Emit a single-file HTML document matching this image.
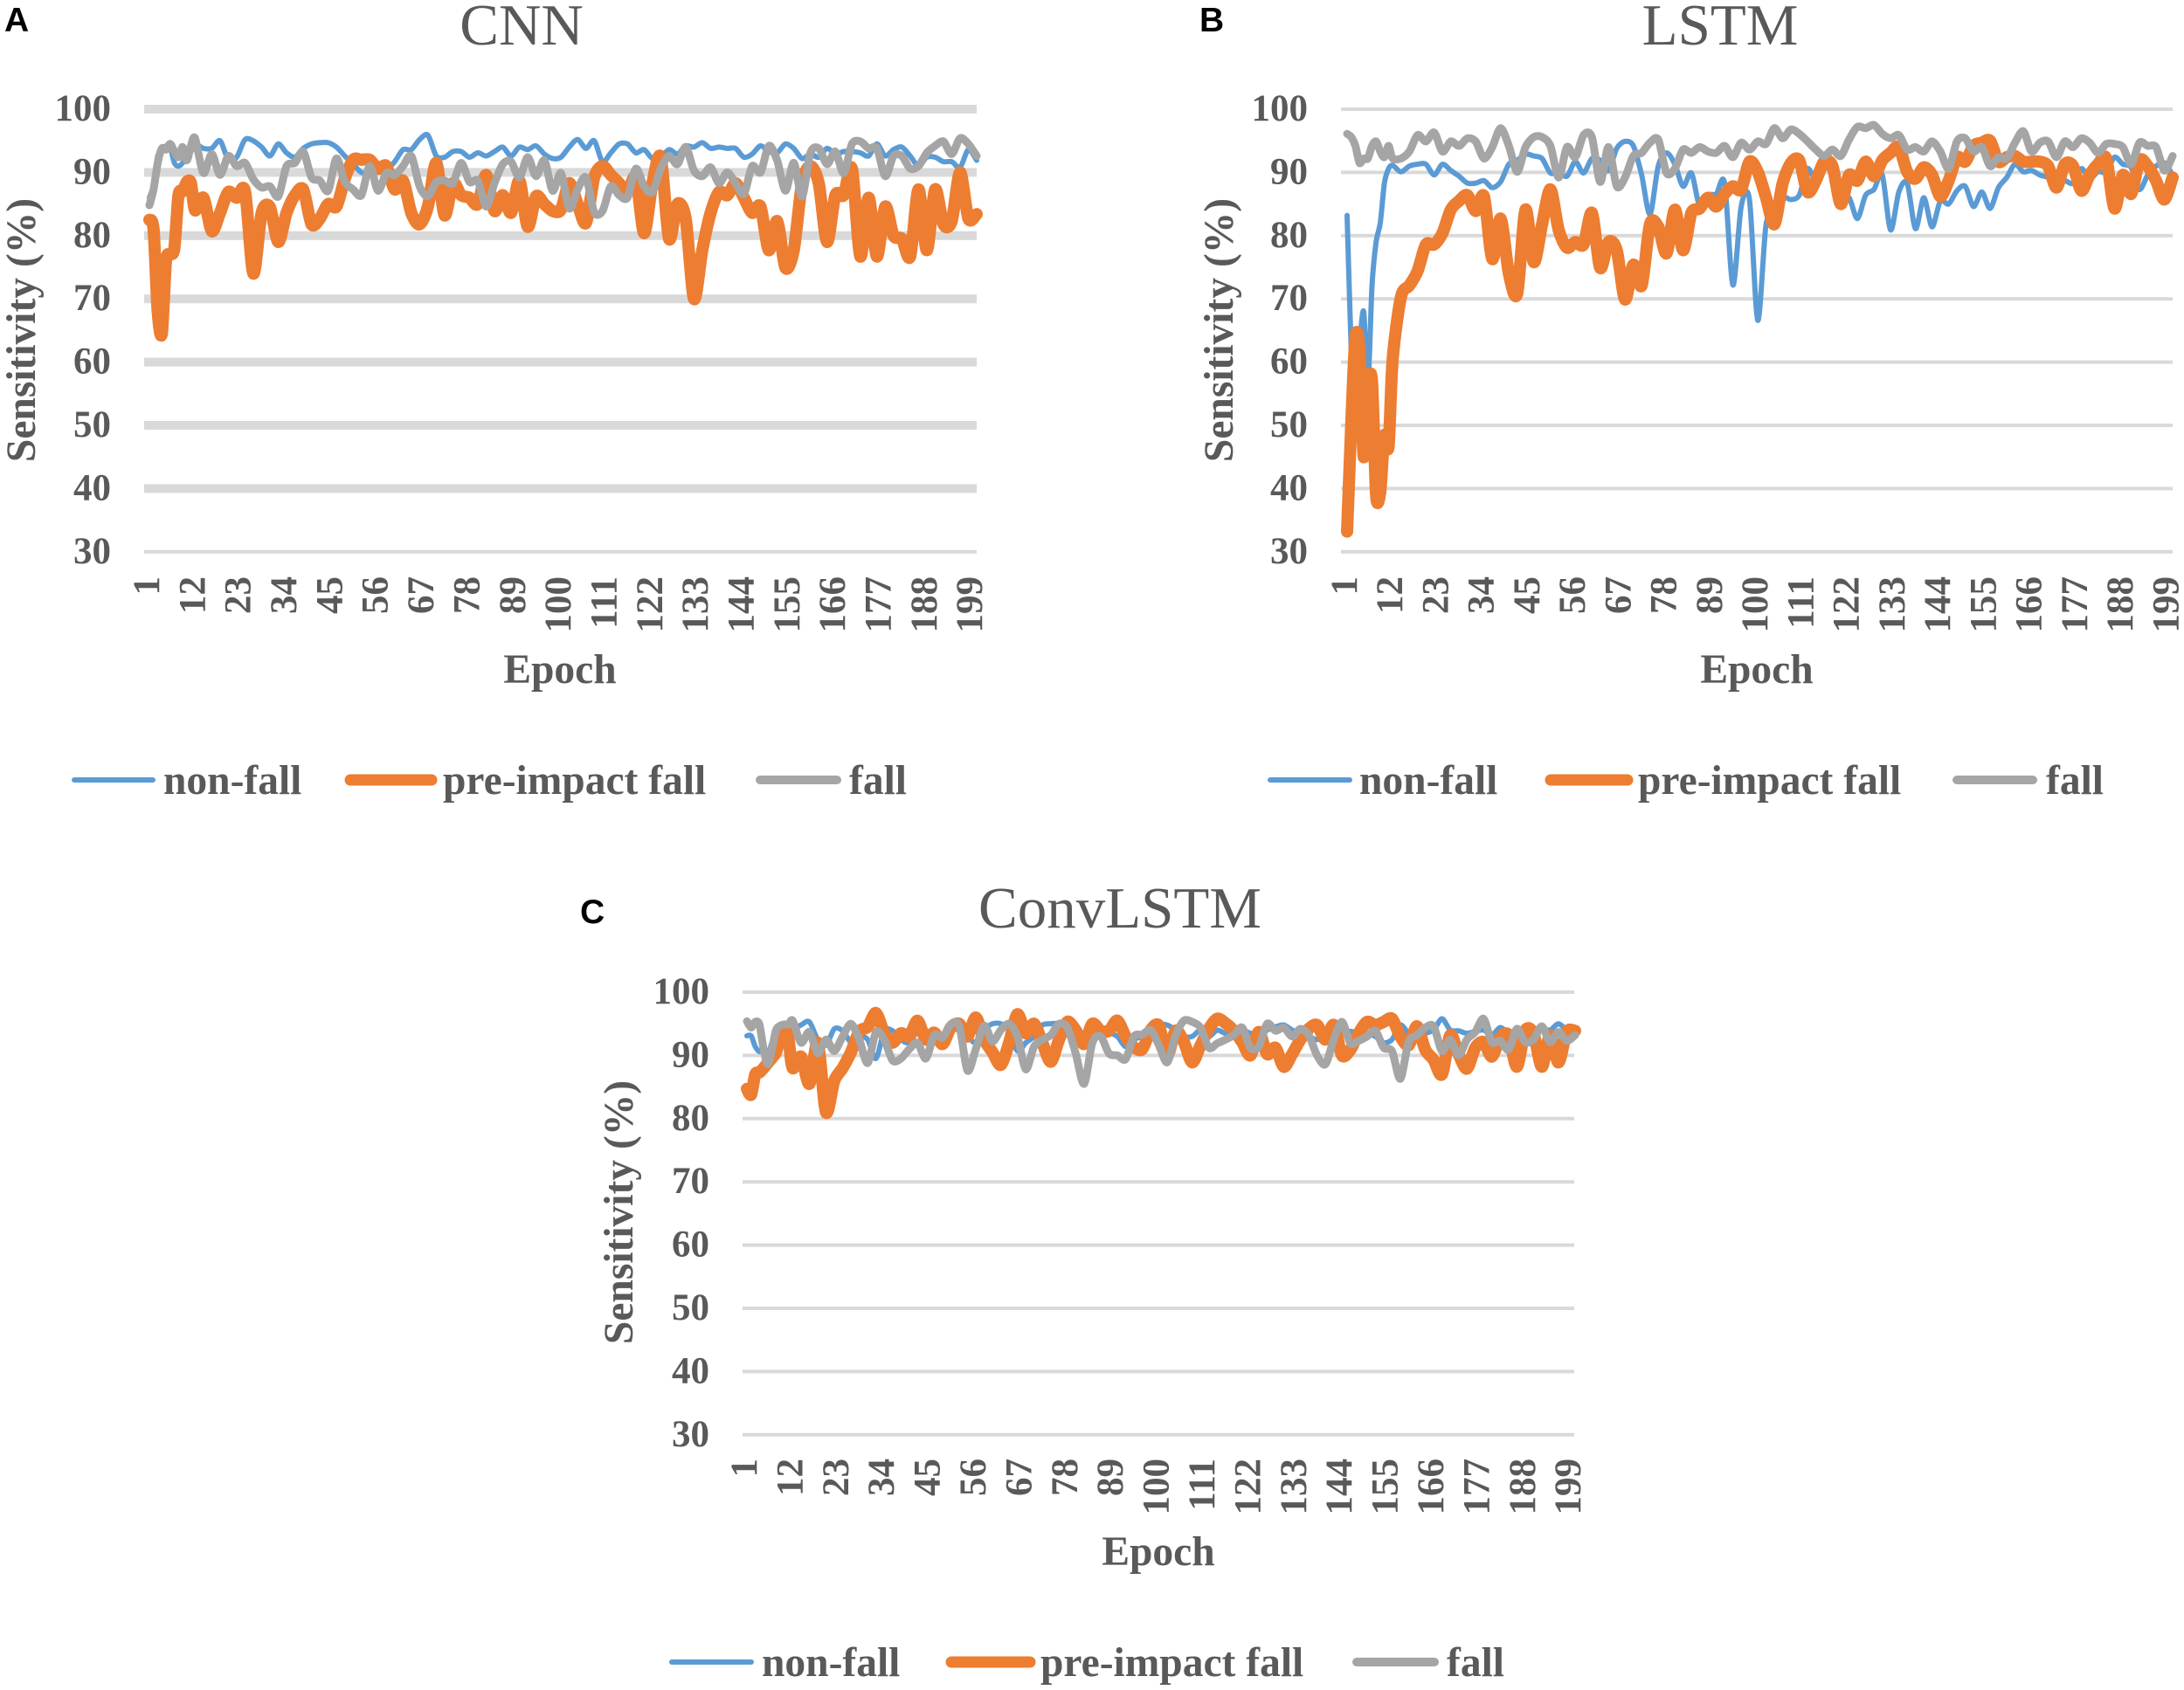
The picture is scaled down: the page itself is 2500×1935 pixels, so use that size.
<!DOCTYPE html>
<html lang="en">
<head>
<meta charset="utf-8">
<title>Sensitivity per epoch for CNN, LSTM and ConvLSTM</title>
<style>
html,body{margin:0;padding:0;background:#fff;}
svg{display:block;}
text{font-family:"Liberation Serif",serif;fill:#595959;}
.b{font-weight:bold;}
.panel-letter{font-family:"Liberation Sans",sans-serif;font-weight:bold;font-size:39px;fill:#000;}
.title{font-size:67px;text-anchor:middle;}
.axis-title{font-size:47.5px;font-weight:bold;text-anchor:middle;}
.legend{font-size:47.5px;font-weight:bold;}
.tick{font-size:43px;font-weight:bold;}
</style>
</head>
<body>
<svg id="figure" xmlns="http://www.w3.org/2000/svg" width="2500" height="1935" viewBox="0 0 2500 1935">
  <rect x="0" y="0" width="2500" height="1935" fill="#ffffff"/>

  <g id="panel-a">
    <text class="panel-letter" x="5" y="36">A</text>
    <text class="title" x="597" y="51">CNN</text>
    <text class="axis-title" transform="translate(40 378) rotate(-90)">Sensitivity (%)</text>
    <text class="axis-title" x="641" y="782">Epoch</text>
    <g>
      <line x1="85" x2="175" y1="893" y2="893" stroke="#5B9BD5" stroke-width="6" stroke-linecap="round"/>
      <text class="legend" x="187" y="909">non-fall</text>
      <line x1="401" x2="494" y1="893" y2="893" stroke="#ED7D31" stroke-width="13" stroke-linecap="round"/>
      <text class="legend" x="507" y="909">pre-impact fall</text>
      <line x1="870" x2="958" y1="893" y2="893" stroke="#A5A5A5" stroke-width="10" stroke-linecap="round"/>
      <text class="legend" x="972" y="909">fall</text>
    </g>
  </g>

  <g id="panel-b">
    <text class="panel-letter" x="1373" y="36">B</text>
    <text class="title" x="1969" y="51">LSTM</text>
    <text class="axis-title" transform="translate(1411 378) rotate(-90)">Sensitivity (%)</text>
    <text class="axis-title" x="2011" y="782">Epoch</text>
    <g>
      <line x1="1454" x2="1545" y1="893" y2="893" stroke="#5B9BD5" stroke-width="6" stroke-linecap="round"/>
      <text class="legend" x="1556" y="909">non-fall</text>
      <line x1="1775" x2="1863" y1="893" y2="893" stroke="#ED7D31" stroke-width="13" stroke-linecap="round"/>
      <text class="legend" x="1875" y="909">pre-impact fall</text>
      <line x1="2240" x2="2327" y1="893" y2="893" stroke="#A5A5A5" stroke-width="10" stroke-linecap="round"/>
      <text class="legend" x="2342" y="909">fall</text>
    </g>
  </g>

  <g id="panel-c">
    <text class="panel-letter" x="664" y="1057">C</text>
    <text class="title" x="1282" y="1062">ConvLSTM</text>
    <text class="axis-title" transform="translate(724 1388) rotate(-90)">Sensitivity (%)</text>
    <text class="axis-title" x="1326" y="1792">Epoch</text>
    <g>
      <line x1="769" x2="860" y1="1903" y2="1903" stroke="#5B9BD5" stroke-width="6" stroke-linecap="round"/>
      <text class="legend" x="872" y="1919">non-fall</text>
      <line x1="1089" x2="1179" y1="1903" y2="1903" stroke="#ED7D31" stroke-width="13" stroke-linecap="round"/>
      <text class="legend" x="1191" y="1919">pre-impact fall</text>
      <line x1="1553" x2="1642" y1="1903" y2="1903" stroke="#A5A5A5" stroke-width="10" stroke-linecap="round"/>
      <text class="legend" x="1656" y="1919">fall</text>
    </g>
  </g>
</svg>

<script>
const yTicks = [100, 90, 80, 70, 60, 50, 40, 30];
const xTicks = [1, 12, 23, 34, 45, 56, 67, 78, 89, 100, 111, 122, 133, 144, 155, 166, 177, 188, 199];
const epochs = [1,2,3,4,5,6,7,8,9,10,11,12,
  14,16,18,20,22,24,26,28,30,32,
  34,36,38,40,42,44,46,48,50,52,
  54,56,58,60,62,64,66,68,70,72,
  74,76,78,80,82,84,86,88,90,92,
  94,96,98,100,102,104,106,108,110,112,
  114,116,118,120,122,124,126,128,130,132,
  134,136,138,140,142,144,146,148,150,152,
  154,156,158,160,162,164,166,168,170,172,
  174,176,178,180,182,184,186,188,190,192,
  194,196,198,200];

const cnnNonFall = [86,88,92.6,93.3,94.2,94,91.5,91,91.5,92.6,93.3,94.5,
  93.8,93.8,95,92,92.4,95.2,95,94,92.6,94.5,
  93.1,92.4,93.8,94.5,94.7,94.7,94,92.6,91.3,90,
  90,91,90.5,91.7,93.6,93.6,95.2,95.9,92.6,92.4,
  93.3,93.3,92.4,93.1,92.6,93.3,94,92.6,94,93.6,
  94.2,92.9,92.2,92.4,94,95.2,93.8,95,91.7,93.1,
  94.5,94.5,93.1,93.6,92.2,92.4,93.6,92.9,94.2,94,
  94.7,93.8,94,93.8,93.8,92.4,92.9,94.2,93.3,93.1,
  94.5,93.8,92.2,92.9,92.4,93.8,92.9,93.3,93.3,93.1,
  92.6,94.5,92.6,93.6,94,92.6,91,92.4,92.4,91.7,
  91.7,90.8,93.6,91.9];
const cnnPreImpact = [82.5,81,68,64.5,76,77,78,86.4,87,88.5,88.3,84,
  86,80.7,83.6,86.9,86,87,74,83.6,84.5,79,
  83.6,86.4,87.3,81.8,82.7,85,84.6,89,92,92,
  92,90.6,91,87.3,88.7,83.6,81.8,84.6,91.5,83.2,
  88.3,86.4,86,85,89.6,83.9,86.4,83.6,88.7,81.4,
  86.2,85,83.9,84.1,88.3,85,82,89.2,91,89.6,
  88.3,86.9,89.2,80.4,88.3,92.4,79.5,85,82.7,70,
  77.7,83.6,86.9,86.4,88.3,86,83.6,84.6,77.7,82.3,
  74.9,77.7,88.3,91,88.3,79,86.4,86.4,90.6,76.7,
  86,76.7,84.6,80,79.5,76.7,87.3,77.7,87.3,81.8,
  82.3,90,82.7,83.4];
const cnnFall = [84.8,87.3,91.5,93.8,93.6,94.5,93.3,92.4,94,91.9,94.2,95.4,
  89.9,92.9,89.6,92.6,91,91.5,88.9,87.6,87.8,86.2,
  91,91.5,93.3,89.2,88.7,87.1,92.2,88.5,87.3,86.4,
  91,87.1,89.9,89.6,91,92.6,87.8,86.2,88.5,88.7,
  88.3,91.5,88.5,88.7,84.6,88.3,91.3,91.7,89.2,92.4,
  89.4,91.9,87.1,89.9,84.3,87.3,89.2,83.7,83.9,87.8,
  86.4,86,90.6,87.8,86.9,90.6,92.6,91.3,94,90.3,
  89.4,90.8,88.3,90,88.3,86.6,91,90,94.2,91.9,
  87.1,91.5,86.2,93.1,93.8,91.3,93.3,89.9,94.5,94.9,
  93.8,93.8,89.4,92.6,92.6,90.6,91,93.1,94.2,94.9,
  92.9,95.4,94.5,92.6];

const lstmNonFall = [83.2,62,50,62,68,56,72,79,82,88.3,90.6,91.1,
  90.1,91,91.3,91.3,89.6,91.3,90.3,89.4,88.3,88.3,
  88.7,87.6,88.5,91.3,91.9,92.9,92.6,92.2,89.9,90.1,
  89.4,91.7,89.9,92.2,91.9,90.3,93.8,94.9,94.2,89.6,
  83.4,91,93.1,91.3,87.8,89.9,84.6,86.4,86.6,88.3,
  72.2,84.6,85.7,66.6,81.8,83,86,85.7,86.4,90.6,
  88.7,91,89.6,85.3,86,82.7,86.4,87.3,89.6,80.9,
  86.9,88.3,81.1,86,81.4,85.5,85,87.1,87.8,84.6,
  86.9,84.3,87.6,89.2,91.3,90.1,90.3,89.6,89.2,88.5,
  88.7,88.3,90.6,89,90.1,90.1,92.4,91.3,90.8,87.3,
  89.6,91,91.5,89.6];
const lstmPreImpact = [33.2,50,63.9,62,45,56,57,39,39.5,48.4,46.6,60.5,
  70.3,72.1,74.4,78.6,78.6,80.4,84.1,85.5,86.4,83.9,
  86.2,76.3,82.7,74,70.8,84.1,75.8,81.8,87.3,80.9,
  78.1,79,78.6,83.6,74.9,79,77.7,69.9,75.4,72.1,
  81.8,81.4,77.2,84.1,77.7,83.6,84.3,86,84.6,86.6,
  87.8,87.3,91.7,90.1,86,81.8,88.3,91.5,91.9,86.9,
  88.7,91.7,91,85,89.6,88.7,91.7,89.4,91.9,93.1,
  94,90.1,89,90.8,89.6,86.2,88.7,92.4,91.7,94.2,
  94.7,95,91.7,92.4,92.6,91.7,91.7,91.7,91,87.6,
  91.3,91,87.1,89.6,91.3,92.2,84.3,89.6,86.6,91.9,
  91,88.7,85.7,89.2];
const lstmFall = [96.1,95.6,94.2,91.5,92.2,92.2,94.2,94.9,93.3,92.4,94.2,92.2,
  92.2,93.3,95.9,94.9,96.3,93.3,94.9,94.2,95.4,94.9,
  92.2,94,97,94.2,90.1,94,95.6,95.6,94.2,89.2,
  94,92.4,95.9,95.6,88.5,94,87.8,89.2,92.6,93.1,
  94.7,95.2,89.9,90.6,93.6,93.1,94,93.3,93.1,94.2,
  92.4,94.7,93.6,94.9,94.5,97,95.4,96.8,96.1,94.9,
  93.6,92.6,93.6,92.6,95.2,97.2,97,97.5,96.1,95.4,
  95.9,93.6,94,93.3,94.9,93.3,90.6,94.9,95.4,93.3,
  94,91,92.4,92.2,94.7,96.5,93.3,94.7,94.9,92.4,
  94.9,94,95.4,94.7,93.1,94.5,94.5,94,91.3,94.7,
  94.2,94,90.3,92.6];

const convNonFall = [93.1,93.1,91.4,90.6,91,90,92,92.5,92,92.8,93,94,
  94.8,95.3,92.5,91.6,94.2,93.9,92.1,93,92.5,89.5,
  93.9,93.9,92.5,92,93.7,92.5,93,93,94,94,
  93,92,94,95,95,94,90.7,92,93,94.8,
  95,95,94,93,92,93.5,93,93.5,93,91.4,
  92.5,93,93.5,94.8,94.8,94,93,93,94,93,
  94,93.5,94,94,93.5,93,94,94.5,94.8,94,
  93.5,93,92.5,93,93.5,93.5,93.8,93.5,93.5,93,
  92,92.5,94.8,93.5,93,93.5,94,95.8,94,93.9,
  93.5,93.8,94,93.2,94.4,93.5,94,93.5,93,94.2,
  94,95,94,93.6];
const convPreImpact = [84.7,83.8,87,87.3,88,88.8,89.6,90.5,92.8,94.3,92.5,88,
  89.8,85.5,92,81,86,88,90.5,93.8,94.5,96.7,
  93.5,92,93.5,93,95.5,92.5,93.6,91.8,94.4,95,
  93,96,92.5,90.5,88.5,92,96.5,93.5,95,92,
  89,92.5,95.3,94,91.8,95,93.9,93.9,95.5,93,
  91.3,91,94,94.7,90,93.9,92.1,88.9,91.6,94.2,
  95.8,95.1,93.9,92.1,90,93.7,90.2,91.2,88.2,90.2,
  92.5,94.2,94.8,92.5,94.8,90,90.9,93.5,95.3,94.8,
  95.3,95.8,93,91.6,94.6,90.9,89.3,87,93.2,90.2,
  87.9,91.2,92.1,89.8,92.8,93.2,88.2,93.9,93.5,88.2,
  93.2,88.9,93.7,93.9];
const convFall = [95.4,94.4,95.3,94.9,91,88.6,91,94,94.7,94.9,94.9,95.5,
  92,93.7,90.3,92.5,90.7,93,95,92.5,88.8,93.7,
  92.5,89.2,89.5,91,92,89.5,93.2,92.8,94.9,94.7,
  87.6,91,94.7,92.2,94,95,93,87.8,91.4,92.5,
  93.2,95,94.4,90.3,85.5,92,93,90.3,90,89.4,
  93,93.3,94,91.6,88.9,93.2,95.5,95.3,94.4,91.2,
  91.9,92.5,93.2,94.4,91.2,91.4,95,93.9,94.4,93,
  94.2,93.2,90,88.6,92.5,95.3,91.9,92.3,93,93.9,
  91.2,90.7,86.3,92.1,93.2,94.4,94.6,90.7,92.5,90,
  92.5,93.7,95.8,92.1,92.3,90.9,94.2,92.1,92.5,94.6,
  92.1,93.7,92.3,93.2];

const SVG_NS = 'http://www.w3.org/2000/svg';

function xScale(panel, epoch) {
  return panel.xStart + (epoch - 1) * (panel.xEnd - panel.xStart) / 199;
}
function yScale(panel, value) {
  return panel.yTop + (100 - value) * 7.24;
}
function smoothPath(points) {
  let d = 'M' + points[0][0].toFixed(1) + ' ' + points[0][1].toFixed(1);
  for (let i = 0; i < points.length - 1; i++) {
    const p0 = points[Math.max(i - 1, 0)];
    const p1 = points[i];
    const p2 = points[i + 1];
    const p3 = points[Math.min(i + 2, points.length - 1)];
    const c1x = p1[0] + (p2[0] - p0[0]) / 7;
    const c1y = p1[1] + (p2[1] - p0[1]) / 7;
    const c2x = p2[0] - (p3[0] - p1[0]) / 7;
    const c2y = p2[1] - (p3[1] - p1[1]) / 7;
    d += 'C' + c1x.toFixed(1) + ' ' + c1y.toFixed(1) + ' ' + c2x.toFixed(1) + ' ' + c2y.toFixed(1) + ' ' + p2[0].toFixed(1) + ' ' + p2[1].toFixed(1);
  }
  return d;
}

function drawPanel(panel) {
  const root = document.getElementById(panel.id);

  yTicks.forEach(function (tick) {
    const gridLine = document.createElementNS(SVG_NS, 'line');
    
    
    gridLine.setAttribute('x1', panel.gridLeft);
    gridLine.setAttribute('x2', panel.gridRight);
    gridLine.setAttribute('y1', yScale(panel, tick));
    gridLine.setAttribute('y2', yScale(panel, tick));
    gridLine.setAttribute('stroke', '#d9d9d9');
    gridLine.setAttribute('stroke-width', tick === 30 ? 4 : panel.gridWidth);
    root.appendChild(gridLine);

    const yLabel = document.createElementNS(SVG_NS, 'text');
    
    
    yLabel.setAttribute('class', 'tick');
    yLabel.setAttribute('x', panel.yLabelRight);
    yLabel.setAttribute('y', yScale(panel, tick) + 13);
    yLabel.setAttribute('text-anchor', 'end');
    yLabel.textContent = tick;
    root.appendChild(yLabel);
  });

  xTicks.forEach(function (tick) {
    const xLabel = document.createElementNS(SVG_NS, 'text');
    const cx = xScale(panel, tick) + panel.labelShift + 14;
    
    
    xLabel.setAttribute('class', 'tick');
    xLabel.setAttribute('text-anchor', 'end');
    xLabel.setAttribute('transform', 'translate(' + cx + ' ' + panel.xLabelTop + ') rotate(-90)');
    xLabel.textContent = tick;
    root.appendChild(xLabel);
  });

  panel.series.forEach(function (s) {
    const pts = epochs.map(function (e, i) {
      return [xScale(panel, e), yScale(panel, s.values[i])];
    });
    const line = document.createElementNS(SVG_NS, 'path');
    
    
    line.setAttribute('d', smoothPath(pts));
    line.setAttribute('fill', 'none');
    line.setAttribute('stroke', s.color);
    line.setAttribute('stroke-width', s.width);
    line.setAttribute('stroke-linecap', 'round');
    line.setAttribute('stroke-linejoin', 'round');
    root.appendChild(line);
  });
}

drawPanel({
  id: 'panel-a', gridLeft: 165, gridRight: 1118, gridWidth: 10, yTop: 125,
  xStart: 171, xEnd: 1118, yLabelRight: 127, xLabelTop: 660, labelShift: -3,
  series: [
    { name: 'line-non-fall', values: cnnNonFall, color: '#5B9BD5', width: 6 },
    { name: 'line-pre-impact-fall', values: cnnPreImpact, color: '#ED7D31', width: 14 },
    { name: 'line-fall', values: cnnFall, color: '#A5A5A5', width: 9 }
  ]
});
drawPanel({
  id: 'panel-b', gridLeft: 1535, gridRight: 2487, gridWidth: 4, yTop: 125,
  xStart: 1542, xEnd: 2487, yLabelRight: 1497, xLabelTop: 660, labelShift: -3,
  series: [
    { name: 'line-non-fall', values: lstmNonFall, color: '#5B9BD5', width: 6 },
    { name: 'line-pre-impact-fall', values: lstmPreImpact, color: '#ED7D31', width: 14 },
    { name: 'line-fall', values: lstmFall, color: '#A5A5A5', width: 9 }
  ]
});
drawPanel({
  id: 'panel-c', gridLeft: 850, gridRight: 1802, gridWidth: 4, yTop: 1136,
  xStart: 855, xEnd: 1803, yLabelRight: 812, xLabelTop: 1670, labelShift: -3,
  series: [
    { name: 'line-non-fall', values: convNonFall, color: '#5B9BD5', width: 6 },
    { name: 'line-pre-impact-fall', values: convPreImpact, color: '#ED7D31', width: 14 },
    { name: 'line-fall', values: convFall, color: '#A5A5A5', width: 9 }
  ]
});
</script>
</body>
</html>
